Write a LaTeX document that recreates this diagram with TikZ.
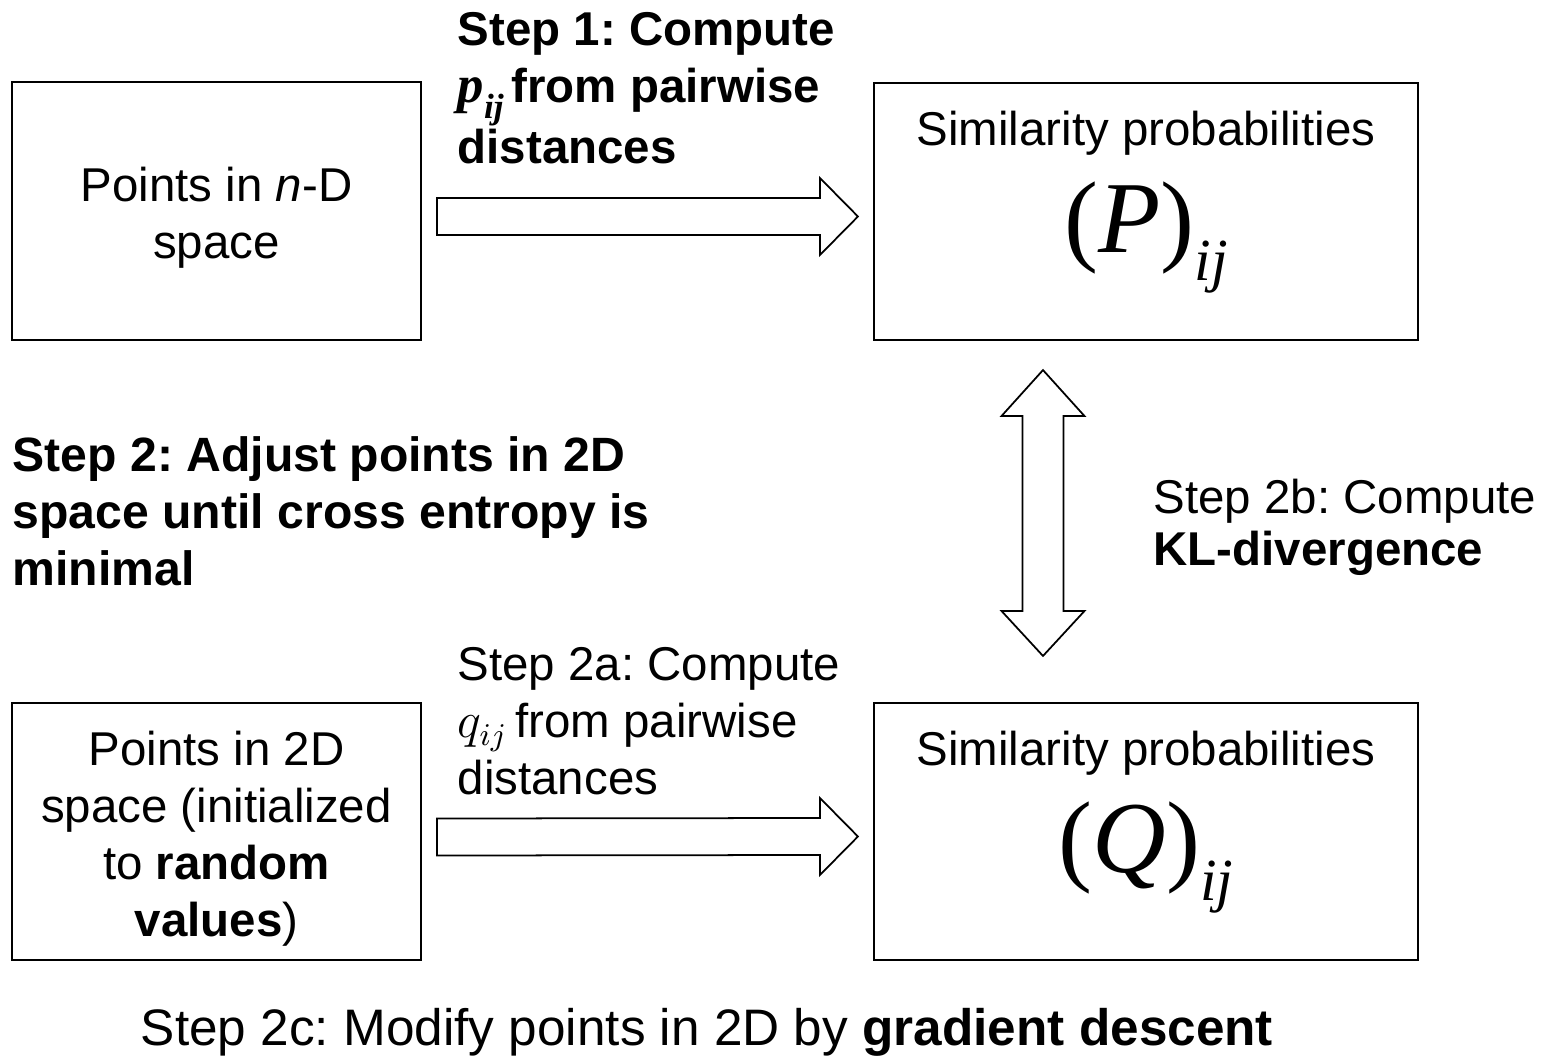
\documentclass[tikz,border=0pt]{standalone}
\usepackage{fontspec}
\setmainfont{Liberation Sans}
\newfontfamily\timesfont{Liberation Serif}
\usetikzlibrary{calc}
\frenchspacing

\tikzset{
	every node/.style={font=\fontsize{13.5pt}{16.2pt}\selectfont},
	box/.style={draw, line width=0.6pt, inner sep=0pt},
	boxtext/.style={inner sep=0pt, align=center},
	blockarrow/.style={draw, line width=0.5pt, fill=white, line join=miter},
	steptext/.style={anchor=north west, inner sep=0pt, align=left},
	bigmat/.style={anchor=base, inner sep=0pt, font=\timesfont\fontsize{29pt}{29pt}\selectfont},
}

\begin{document}
\begin{tikzpicture}
		\useasboundingbox (0,0) rectangle (15.52,-10.62);
		\node[box, minimum width=4.09cm, minimum height=2.58cm] (ndpts) at (2.165,-2.11) {};
		\node[boxtext] (ndtext) at ([yshift=-0.07cm]ndpts.center) {Points in \textit{n}-D\\space};
		\node[box, minimum width=4.09cm, minimum height=2.57cm] (twodpts) at (2.165,-8.315) {};
		\node[boxtext] (twodtext) at ([yshift=-0.07cm]twodpts.center) {Points in 2D\\space (initialized\\to \textbf{random}\\\textbf{values})};
		\node[box, minimum width=5.44cm, minimum height=2.57cm] (simP) at (11.46,-2.115) {};
		\node[box, minimum width=5.44cm, minimum height=2.57cm] (simQ) at (11.46,-8.315) {};
		\node[anchor=base, inner sep=0pt] (ptitle) at (11.46,-1.45) {Similarity probabilities};
		\node[anchor=base, inner sep=0pt] (qtitle) at (11.46,-7.65) {Similarity probabilities};
		\node[bigmat] (pmat) at (11.46,-2.52) {(\textit{P})\raisebox{-0.28em}{\fontsize{17pt}{17pt}\selectfont\textit{ij}}};
		\node[bigmat] (qmat) at (11.46,-8.72) {(\textit{Q})\raisebox{-0.28em}{\fontsize{17pt}{17pt}\selectfont\textit{ij}}};
		\node[steptext, font=\bfseries\fontsize{13.5pt}{16.2pt}\selectfont] (step1) at (4.57,-0.12) {Step 1: Compute\\{\timesfont\itshape\fontsize{15pt}{15pt}\selectfont p\raisebox{-0.3em}{\fontsize{10pt}{10pt}\selectfont ij}}\,from pairwise\\distances};
		\node[steptext] (step2a) at (4.57,-6.47) {Step 2a: Compute\\$q_{ij}$\,from pairwise\\distances};
		\node[steptext, font=\bfseries\fontsize{13.7pt}{16.2pt}\selectfont] (step2) at (0.12,-4.36) {Step 2: Adjust points in 2D\\space until cross entropy is\\minimal};
		\node[steptext, font=\fontsize{13.5pt}{15pt}\selectfont] (step2b) at (11.53,-4.78) {Step 2b: Compute\\\textbf{KL-divergence}};
		\node[anchor=base, inner sep=0pt, font=\fontsize{14.6pt}{17pt}\selectfont] (step2c) at (7.07,-10.45) {Step 2c: Modify points in 2D by \textbf{gradient descent}};
		\coordinate (a1s) at ($(ndpts.east)+(0.15,-0.055)$);
		\coordinate (a1e) at ($(simP.west)+(-0.15,-0.05)$);
		\draw[blockarrow] ($(a1s)+(0,0.185)$) -- ($(a1e)+(-0.38,0.185)$) -- ($(a1e)+(-0.38,0.385)$) -- (a1e) -- ($(a1e)+(-0.38,-0.385)$) -- ($(a1e)+(-0.38,-0.185)$) -- ($(a1s)+(0,-0.185)$) -- cycle;
		\coordinate (a2s) at ($(twodpts.east)+(0.15,-0.055)$);
		\coordinate (a2e) at ($(simQ.west)+(-0.15,-0.05)$);
		\draw[blockarrow] ($(a2s)+(0,0.185)$) -- ($(a2e)+(-0.38,0.185)$) -- ($(a2e)+(-0.38,0.385)$) -- (a2e) -- ($(a2e)+(-0.38,-0.385)$) -- ($(a2e)+(-0.38,-0.185)$) -- ($(a2s)+(0,-0.185)$) -- cycle;
		\coordinate (dtop) at ($(simP.south)+(-1.03,-0.29)$);
		\coordinate (dbot) at ($(simQ.north)+(-1.03,0.46)$);
		\draw[blockarrow] (dtop) -- ++(0.415,-0.46) -- ++(-0.21,0) -- ($(dbot)+(0.205,0.45)$) -- ++(0.21,0) -- (dbot) -- ++(-0.415,0.45) -- ++(0.21,0) -- ($(dtop)+(-0.205,-0.46)$) -- ++(-0.21,0) -- cycle;
	\end{tikzpicture}
\end{document}
